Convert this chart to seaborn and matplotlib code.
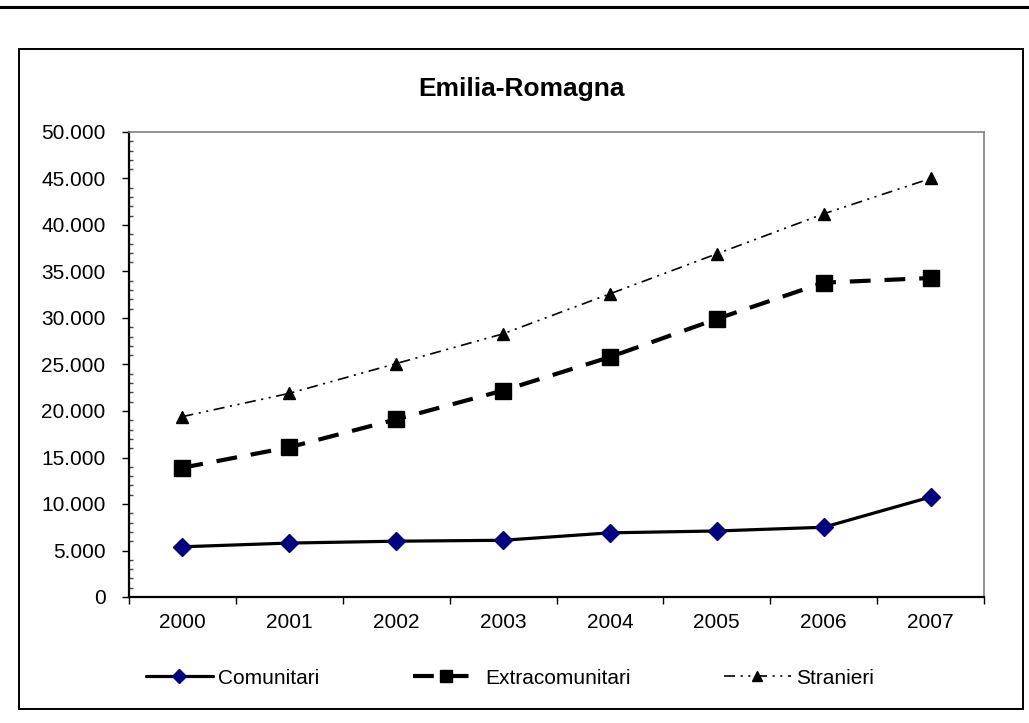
import matplotlib
matplotlib.use('Agg')
import matplotlib.pyplot as plt
import matplotlib.ticker as mticker
from matplotlib.lines import Line2D
from matplotlib.patches import Rectangle
import seaborn as sns

years = ['2000', '2001', '2002', '2003', '2004', '2005', '2006', '2007']
comunitari = [5400, 5800, 6000, 6100, 6900, 7100, 7500, 10750]
extracomunitari = [13900, 16100, 19100, 22200, 25800, 29900, 33800, 34300]
stranieri = [19400, 21900, 25100, 28300, 32600, 36900, 41200, 45000]
labels = ['Comunitari', 'Extracomunitari', 'Stranieri']

sns.set_style('white')
plt.rcParams['font.family'] = ['Liberation Sans', 'DejaVu Sans']
plt.rcParams['lines.scale_dashes'] = False
plt.rcParams['text.color'] = 'black'
plt.rcParams['xtick.color'] = 'black'
plt.rcParams['ytick.color'] = 'black'
plt.rcParams['xtick.labelcolor'] = 'black'
plt.rcParams['ytick.labelcolor'] = 'black'

W, H = 1029, 723
fig = plt.figure(figsize=(W / 100, H / 100), dpi=100)
ax = fig.add_axes([129 / W, 1 - 597 / H, (984 - 129) / W, (597 - 132) / H])

pos = list(range(len(years)))

sns.lineplot(x=pos, y=comunitari, ax=ax, color='black', linewidth=2.3,
             marker='D', markersize=9.5, markerfacecolor='#000080',
             markeredgecolor='#000080', markeredgewidth=1)
sns.lineplot(x=pos, y=extracomunitari, ax=ax, color='black', linewidth=3,
             marker='s', markersize=11.5, markerfacecolor='black',
             markeredgecolor='black', markeredgewidth=1)
ax.lines[-1].set_dashes((15, 10))
sns.lineplot(x=pos, y=stranieri, ax=ax, color='black', linewidth=1.2,
             marker='^', markersize=8.5, markerfacecolor='black',
             markeredgecolor='black', markeredgewidth=1)
ax.lines[-1].set_dashes((8, 4, 1.5, 4, 1.5, 4))

# axes
ax.set_xlim(-0.5, len(years) - 0.5)
ax.set_ylim(0, 50000)
ax.set_xticks(pos)
ax.set_xticklabels(years)
ax.set_xticks([p - 0.5 for p in pos] + [len(years) - 0.5], minor=True)
ax.yaxis.set_major_locator(mticker.MultipleLocator(5000))
ax.yaxis.set_minor_locator(mticker.MultipleLocator(1000))
ax.yaxis.set_major_formatter(mticker.FuncFormatter(lambda v, p: f"{int(v):,}".replace(',', '.')))
ax.tick_params(axis='x', which='major', length=0, pad=11.5, labelsize=15, labelcolor='black')
ax.tick_params(axis='x', which='minor', direction='out', length=5, width=1, color='black', bottom=True)
ax.tick_params(axis='y', which='major', direction='out', length=5, width=1, pad=12, labelsize=15,
               color='black', labelcolor='black', left=True)
ax.tick_params(axis='y', which='minor', direction='in', length=3, width=1, color='#444444', left=True)
ax.set_xlabel('')
ax.set_ylabel('')

for s in ['left', 'bottom']:
    ax.spines[s].set_color('black')
    ax.spines[s].set_linewidth(1.6)
for s in ['top', 'right']:
    ax.spines[s].set_color('#808080')
    ax.spines[s].set_linewidth(1.2)

fig.text(522 / W, 1 - 96 / H, 'Emilia-Romagna', ha='center', va='baseline',
         fontsize=19, fontweight='bold', color='black')

fig.legend(handles=ax.lines[:3], labels=labels, loc='center',
           bbox_to_anchor=(510 / W, 1 - 678 / H), ncol=3, frameon=False,
           fontsize=15, handlelength=3.2, handletextpad=0.25,
           columnspacing=4.5, markerscale=0.8, labelcolor='black')

# outer frame and top rule
fig.patches.append(Rectangle((19 / W, 1 - 709 / H), (1023 - 19) / W, (709 - 49) / H,
                             transform=fig.transFigure, fill=False,
                             edgecolor='black', linewidth=1.4))
fig.lines.append(Line2D([0, 1], [1 - 7 / H, 1 - 7 / H], transform=fig.transFigure,
                        color='black', linewidth=2.2))

fig.savefig('out.png', dpi=100)
